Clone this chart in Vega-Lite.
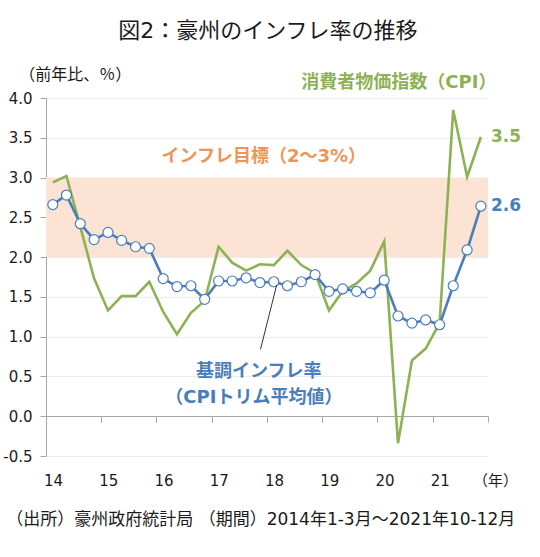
{
  "$schema": "https://vega.github.io/schema/vega-lite/v6.json",
  "width": 442,
  "height": 358,
  "autosize": {"type": "none"},
  "padding": {"left": 46, "top": 98, "right": 52, "bottom": 101},
  "background": "white",
  "config": {
    "font": "DejaVu Sans, Noto Sans CJK JP",
    "view": {"stroke": null},
    "axis": {"labelColor": "#1a1a1a", "domainColor": "#a6a6a6", "tickColor": "#a6a6a6", "title": null}
  },
  "data": {
    "values": [
      {"date": "2014-02-15", "series": "CPI", "val": 2.94},
      {"date": "2014-05-16", "series": "CPI", "val": 3.02},
      {"date": "2014-08-16", "series": "CPI", "val": 2.38},
      {"date": "2014-11-15", "series": "CPI", "val": 1.73},
      {"date": "2015-02-15", "series": "CPI", "val": 1.33},
      {"date": "2015-05-16", "series": "CPI", "val": 1.51},
      {"date": "2015-08-16", "series": "CPI", "val": 1.51},
      {"date": "2015-11-15", "series": "CPI", "val": 1.69},
      {"date": "2016-02-15", "series": "CPI", "val": 1.31},
      {"date": "2016-05-16", "series": "CPI", "val": 1.03},
      {"date": "2016-08-16", "series": "CPI", "val": 1.30},
      {"date": "2016-11-15", "series": "CPI", "val": 1.45},
      {"date": "2017-02-15", "series": "CPI", "val": 2.13},
      {"date": "2017-05-16", "series": "CPI", "val": 1.93},
      {"date": "2017-08-16", "series": "CPI", "val": 1.83},
      {"date": "2017-11-15", "series": "CPI", "val": 1.91},
      {"date": "2018-02-15", "series": "CPI", "val": 1.90},
      {"date": "2018-05-16", "series": "CPI", "val": 2.08},
      {"date": "2018-08-16", "series": "CPI", "val": 1.90},
      {"date": "2018-11-15", "series": "CPI", "val": 1.80},
      {"date": "2019-02-15", "series": "CPI", "val": 1.33},
      {"date": "2019-05-16", "series": "CPI", "val": 1.57},
      {"date": "2019-08-16", "series": "CPI", "val": 1.67},
      {"date": "2019-11-15", "series": "CPI", "val": 1.83},
      {"date": "2020-02-15", "series": "CPI", "val": 2.20},
      {"date": "2020-05-16", "series": "CPI", "val": -0.34},
      {"date": "2020-08-16", "series": "CPI", "val": 0.70},
      {"date": "2020-11-15", "series": "CPI", "val": 0.85},
      {"date": "2021-02-15", "series": "CPI", "val": 1.17},
      {"date": "2021-05-16", "series": "CPI", "val": 3.85},
      {"date": "2021-08-16", "series": "CPI", "val": 3.01},
      {"date": "2021-11-15", "series": "CPI", "val": 3.51},
      {"date": "2014-02-15", "series": "Trim", "val": 2.66},
      {"date": "2014-05-16", "series": "Trim", "val": 2.78},
      {"date": "2014-08-16", "series": "Trim", "val": 2.42},
      {"date": "2014-11-15", "series": "Trim", "val": 2.22},
      {"date": "2015-02-15", "series": "Trim", "val": 2.31},
      {"date": "2015-05-16", "series": "Trim", "val": 2.21},
      {"date": "2015-08-16", "series": "Trim", "val": 2.13},
      {"date": "2015-11-15", "series": "Trim", "val": 2.11},
      {"date": "2016-02-15", "series": "Trim", "val": 1.73},
      {"date": "2016-05-16", "series": "Trim", "val": 1.63},
      {"date": "2016-08-16", "series": "Trim", "val": 1.64},
      {"date": "2016-11-15", "series": "Trim", "val": 1.47},
      {"date": "2017-02-15", "series": "Trim", "val": 1.70},
      {"date": "2017-05-16", "series": "Trim", "val": 1.70},
      {"date": "2017-08-16", "series": "Trim", "val": 1.74},
      {"date": "2017-11-15", "series": "Trim", "val": 1.68},
      {"date": "2018-02-15", "series": "Trim", "val": 1.69},
      {"date": "2018-05-16", "series": "Trim", "val": 1.64},
      {"date": "2018-08-16", "series": "Trim", "val": 1.69},
      {"date": "2018-11-15", "series": "Trim", "val": 1.78},
      {"date": "2019-02-15", "series": "Trim", "val": 1.57},
      {"date": "2019-05-16", "series": "Trim", "val": 1.60},
      {"date": "2019-08-16", "series": "Trim", "val": 1.57},
      {"date": "2019-11-15", "series": "Trim", "val": 1.55},
      {"date": "2020-02-15", "series": "Trim", "val": 1.71},
      {"date": "2020-05-16", "series": "Trim", "val": 1.26},
      {"date": "2020-08-16", "series": "Trim", "val": 1.17},
      {"date": "2020-11-15", "series": "Trim", "val": 1.21},
      {"date": "2021-02-15", "series": "Trim", "val": 1.15},
      {"date": "2021-05-16", "series": "Trim", "val": 1.64},
      {"date": "2021-08-16", "series": "Trim", "val": 2.09},
      {"date": "2021-11-15", "series": "Trim", "val": 2.64}
    ]
  },
  "encoding": {
    "x": {
      "field": "date",
      "type": "temporal",
      "scale": {"type": "utc", "domain": [{"year": 2014, "utc": true}, {"year": 2022, "utc": true}]},
      "axis": {
        "orient": "bottom",
        "offset": -40,
        "values": [
          {"year": 2014, "utc": true}, {"year": 2015, "utc": true}, {"year": 2016, "utc": true},
          {"year": 2017, "utc": true}, {"year": 2018, "utc": true}, {"year": 2019, "utc": true},
          {"year": 2020, "utc": true}, {"year": 2021, "utc": true}, {"year": 2022, "utc": true}
        ],
        "format": "%y",
        "labelExpr": "utcyear(datum.value) == 2022 ? '（年）' : datum.label",
        "labelOffset": 7,
        "labelPadding": 51,
        "labelFontSize": 15,
        "labelFlush": false,
        "labelOverlap": false,
        "tickSize": 6,
        "grid": false
      }
    },
    "y": {
      "field": "val",
      "type": "quantitative",
      "scale": {"domain": [-0.5, 4], "nice": false, "zero": false},
      "axis": {
        "values": [-0.5, 0, 0.5, 1, 1.5, 2, 2.5, 3, 3.5, 4],
        "labelExpr": "datum.value < 0 ? '-' + format(-datum.value, '.1f') : format(datum.value, '.1f')",
        "labelFontSize": 15,
        "labelPadding": 8,
        "tickSize": 6,
        "gridColor": "#ececec"
      }
    }
  },
  "layer": [
    {
      "data": {"values": [{"date": "2014-01-01", "date2": "2022-01-01", "val": 2, "val2": 3}]},
      "mark": {"type": "rect", "color": "#fce3d3"},
      "encoding": {"x2": {"field": "date2"}, "y2": {"field": "val2"}}
    },
    {
      "mark": {"type": "line", "strokeWidth": 2.6},
      "encoding": {
        "color": {
          "field": "series",
          "type": "nominal",
          "scale": {"domain": ["CPI", "Trim", "Target"], "range": ["#8db255", "#4a7ebb", "#ec9558"]},
          "legend": null
        }
      }
    },
    {
      "transform": [{"filter": "datum.series == 'Trim'"}],
      "mark": {"type": "point", "filled": true, "fill": "white", "stroke": "#4a7ebb", "strokeWidth": 1.2, "size": 100, "opacity": 1}
    },
    {
      "transform": [{"filter": "utcyear(datum.date) == 2021 && utcmonth(datum.date) == 10"}],
      "mark": {"type": "text", "align": "left", "baseline": "middle", "dx": 10, "fontSize": 17, "fontWeight": "bold"},
      "encoding": {
        "text": {"field": "val", "type": "quantitative", "format": ".1f"},
        "color": {
          "field": "series",
          "type": "nominal",
          "scale": {"domain": ["CPI", "Trim", "Target"], "range": ["#8db255", "#4a7ebb", "#ec9558"]},
          "legend": null
        }
      }
    },
    {
      "data": {"values": [{"date": "2018-03-06", "val": 1.65, "date2": "2017-11-19", "val2": 0.84}]},
      "mark": {"type": "rule", "color": "#333333", "strokeWidth": 1},
      "encoding": {"x2": {"field": "date2"}, "y2": {"field": "val2"}}
    },
    {
      "data": {
        "values": [
          {"date": "2020-05-22", "val": 4.194, "series": "CPI", "label": "消費者物価指数（CPI）"},
          {"date": "2017-12-11", "val": 3.262, "series": "Target", "label": "インフレ目標（2～3%）"},
          {"date": "2017-11-08", "val": 0.554, "series": "Trim", "label": "基調インフレ率"},
          {"date": "2017-10-06", "val": 0.227, "series": "Trim", "label": "（CPIトリム平均値）"}
        ]
      },
      "mark": {"type": "text", "align": "center", "baseline": "middle", "fontSize": 18, "fontWeight": "bold"},
      "encoding": {
        "text": {"field": "label"},
        "color": {
          "field": "series",
          "type": "nominal",
          "scale": {"domain": ["CPI", "Trim", "Target"], "range": ["#8db255", "#4a7ebb", "#ec9558"]},
          "legend": null
        }
      }
    },
    {
      "data": {"values": [{"date": "2018-01-07", "val": 4.836, "label": "図2：豪州のインフレ率の推移"}]},
      "mark": {"type": "text", "align": "center", "baseline": "middle", "fontSize": 22, "color": "#1a1a1a"},
      "encoding": {"text": {"field": "label"}}
    },
    {
      "data": {"values": [{"date": "2014-07-14", "val": 4.295, "label": "（前年比、％）"}]},
      "mark": {"type": "text", "align": "center", "baseline": "middle", "fontSize": 16, "color": "#1a1a1a"},
      "encoding": {"text": {"field": "label"}}
    },
    {
      "data": {"values": [{"date": "2017-11-21", "val": -1.31, "label": "（出所）豪州政府統計局 （期間）2014年1-3月～2021年10-12月"}]},
      "mark": {"type": "text", "align": "center", "baseline": "middle", "fontSize": 17, "color": "#1a1a1a"},
      "encoding": {"text": {"field": "label"}}
    }
  ]
}
